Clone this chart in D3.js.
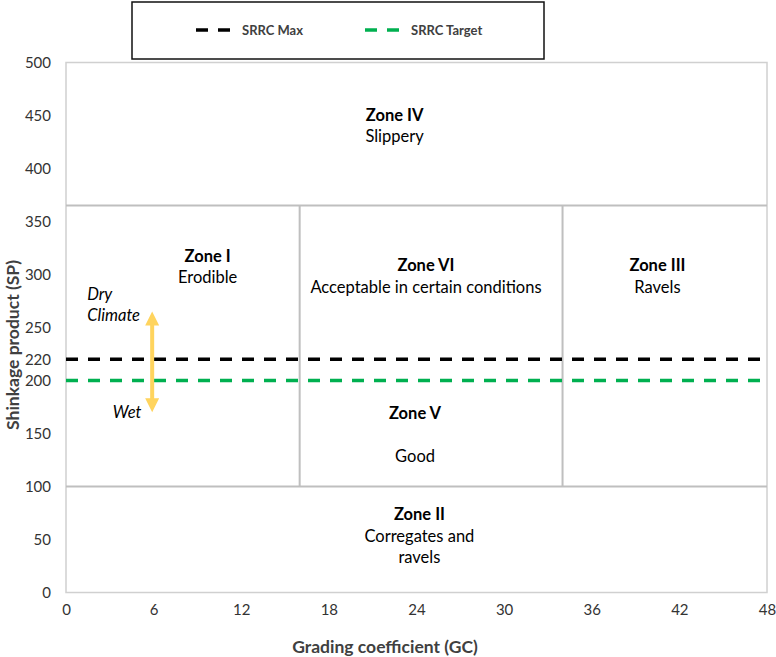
<!DOCTYPE html>
<html>
<head>
<meta charset="utf-8">
<script src="https://cdn.jsdelivr.net/npm/d3@7"></script>
<style>
  body { margin: 0; background: #fff; }
  svg text { font-family: Lato, "Open Sans", sans-serif; }
</style>
</head>
<body>
<script>
// ticks
var xTicks = [0, 6, 12, 18, 24, 30, 36, 42, 48];
var yTicks = [0, 50, 100, 150, 200, 220, 250, 300, 350, 400, 450, 500];

// zone boundaries (GC / SP)
var gcBreaks = [16, 34];
var spBreaks = [100, 365];

// zone labels
var zoneNames = ["Zone IV", "Zone I", "Zone VI", "Zone III", "Zone V", "Zone II"];
var zoneNotes = [["Slippery"], ["Erodible"], ["Acceptable in certain conditions"], ["Ravels"], ["", "Good"], ["Corregates and", "ravels"]];
var zoneLabelGC = [22.5, 9.7, 24.65, 40.5, 23.9, 24.2];
var zoneLabelSP = [445, 312, 303, 303, 164, 68];

// SRRC limit lines
var seriesNames = ["SRRC Max", "SRRC Target"];
var seriesSP = [220, 200];
var seriesColors = ["#000000", "#00B050"];

// climate arrow + notes
var arrowGC = 5.9;
var arrowSP = [170, 265];
var climateText = ["Dry", "Climate", "Wet"];
var climateGC = [1.45, 1.45, 3.2];
var climateSP = [276, 256, 165];

var width = 776, height = 657;
var x = d3.scaleLinear().domain([0, 48]).range([66, 767]);
var y = d3.scaleLinear().domain([0, 500]).range([592.5, 62.5]);

var svg = d3.select("body").append("svg")
    .attr("width", width)
    .attr("height", height);

// outer frame
svg.append("rect")
    .attr("x", x(0)).attr("y", y(500))
    .attr("width", x(48) - x(0)).attr("height", y(0) - y(500))
    .attr("fill", "none")
    .attr("stroke", "#d0d0d0")
    .attr("stroke-width", 1.5);

// zone dividers
svg.selectAll(".hdiv").data(spBreaks).enter().append("line")
    .attr("class", "hdiv")
    .attr("x1", x(0)).attr("x2", x(48))
    .attr("y1", function(d) { return y(d); })
    .attr("y2", function(d) { return y(d); })
    .attr("stroke", "#bfbfbf")
    .attr("stroke-width", 2);

svg.selectAll(".vdiv").data(gcBreaks).enter().append("line")
    .attr("class", "vdiv")
    .attr("x1", function(d) { return x(d); })
    .attr("x2", function(d) { return x(d); })
    .attr("y1", y(spBreaks[0])).attr("y2", y(spBreaks[1]))
    .attr("stroke", "#bfbfbf")
    .attr("stroke-width", 2);

// axes (labels only)
var xAxis = svg.append("g")
    .attr("transform", "translate(0," + (y(0) + 12) + ")")
    .call(d3.axisBottom(x).tickValues(xTicks).tickSize(0).tickPadding(0));
var yAxis = svg.append("g")
    .attr("transform", "translate(" + (x(0) - 15) + ",0)")
    .call(d3.axisLeft(y).tickValues(yTicks).tickSize(0).tickPadding(0));
[xAxis, yAxis].forEach(function(g) {
    g.select(".domain").remove();
    g.selectAll("text")
        .attr("fill", "#333")
        .style("font-size", "15px")
        .style("font-family", "Lato, sans-serif");
});

// zone labels
zoneNames.forEach(function(name, i) {
    var t = svg.append("text")
        .attr("x", x(zoneLabelGC[i]))
        .attr("y", y(zoneLabelSP[i]))
        .attr("text-anchor", "middle")
        .attr("fill", "#000")
        .style("font-size", "16.5px");
    t.append("tspan").attr("font-weight", "bold").text(name);
    zoneNotes[i].forEach(function(line) {
        t.append("tspan")
            .attr("x", x(zoneLabelGC[i]))
            .attr("dy", 21.5)
            .text(line === "" ? " " : line);
    });
});

// SRRC lines
svg.selectAll(".srrc").data(seriesSP).enter().append("line")
    .attr("class", "srrc")
    .attr("x1", x(0)).attr("x2", x(48))
    .attr("y1", function(d) { return y(d); })
    .attr("y2", function(d) { return y(d); })
    .attr("stroke", function(d, i) { return seriesColors[i]; })
    .attr("stroke-width", 3.5)
    .attr("stroke-dasharray", "12,10");

// climate arrow
var ax = x(arrowGC), yTop = y(arrowSP[1]), yBot = y(arrowSP[0]);
var hw = 7, hl = 14, sw = 2;
var p = d3.path();
p.moveTo(ax, yTop);
p.lineTo(ax + hw, yTop + hl);
p.lineTo(ax + sw, yTop + hl);
p.lineTo(ax + sw, yBot - hl);
p.lineTo(ax + hw, yBot - hl);
p.lineTo(ax, yBot);
p.lineTo(ax - hw, yBot - hl);
p.lineTo(ax - sw, yBot - hl);
p.lineTo(ax - sw, yTop + hl);
p.lineTo(ax - hw, yTop + hl);
p.closePath();
svg.append("path")
    .attr("d", p.toString())
    .attr("fill", "#FFD45E");

svg.selectAll(".climate").data(climateText).enter().append("text")
    .attr("class", "climate")
    .attr("x", function(d, i) { return x(climateGC[i]); })
    .attr("y", function(d, i) { return y(climateSP[i]); })
    .attr("font-style", "italic")
    .style("font-size", "16.5px")
    .attr("fill", "#000")
    .text(function(d) { return d; });

// axis titles
svg.append("text")
    .attr("x", 385).attr("y", 653)
    .attr("text-anchor", "middle")
    .attr("font-weight", "bold")
    .attr("fill", "#404040")
    .style("font-size", "17.5px")
    .text("Grading coefficient (GC)");

svg.append("text")
    .attr("transform", "translate(19,345) rotate(-90)")
    .attr("text-anchor", "middle")
    .attr("font-weight", "bold")
    .attr("fill", "#404040")
    .style("font-size", "17.5px")
    .text("Shinkage product (SP)");

// legend
svg.append("rect")
    .attr("x", 132).attr("y", 2)
    .attr("width", 412).attr("height", 57)
    .attr("fill", "#fff")
    .attr("stroke", "#111")
    .attr("stroke-width", 1.5);

var legendX = [196, 365];
seriesNames.forEach(function(name, i) {
    svg.append("line")
        .attr("x1", legendX[i]).attr("x2", legendX[i] + 35)
        .attr("y1", 30).attr("y2", 30)
        .attr("stroke", seriesColors[i])
        .attr("stroke-width", 3.5)
        .attr("stroke-dasharray", "12,10");
    svg.append("text")
        .attr("x", legendX[i] + 46).attr("y", 35)
        .attr("font-weight", "bold")
        .attr("fill", "#404040")
        .style("font-size", "13px")
        .text(name);
});
</script>
</body>
</html>
